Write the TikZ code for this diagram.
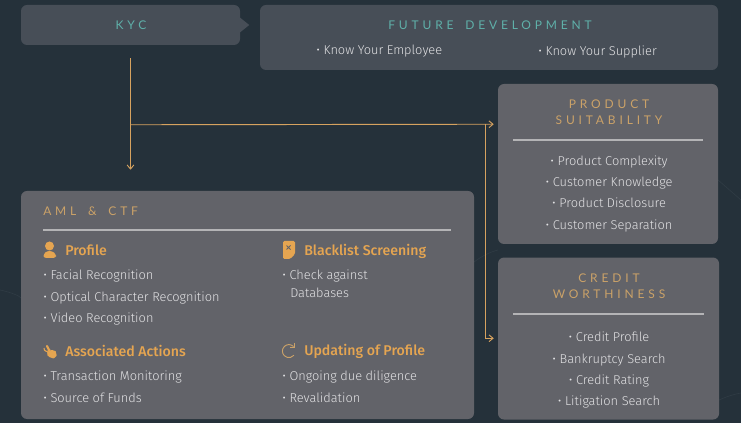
\documentclass[tikz,border=0pt]{standalone}
\usepackage{fontspec}
\setmainfont{Fira Sans}[UprightFont=* Light, BoldFont=* Medium]
\newfontfamily\titlefont[LetterSpace=32,WordSpace=1.7]{Lato}
\usetikzlibrary{positioning, arrows.meta, calc}
\definecolor{pagebg}{HTML}{25313A}
\definecolor{boxdark}{HTML}{474E57}
\definecolor{boxgrey}{HTML}{626369}
\definecolor{tanline}{HTML}{D6A25F}
\definecolor{headorange}{HTML}{E5A551}
\definecolor{titletan}{HTML}{CBA268}
\definecolor{titleteal}{HTML}{5FB0A9}
\definecolor{bodytext}{HTML}{E2E2E4}
\definecolor{rulegrey}{HTML}{B4B4B6}
\definecolor{bgline}{HTML}{2F3B44}

\begin{document}
\begin{tikzpicture}[
  x=0.75pt, y=-0.75pt,
  panel/.style={rounded corners=4.5pt, inner sep=0pt, fill=#1},
  ttl/.style={font=\titlefont\fontsize{9}{12}\selectfont, align=center, inner sep=0pt},
  head/.style={font=\bfseries\fontsize{10.6}{12}\selectfont, text=headorange, anchor=west, inner sep=0pt},
  items/.style={font=\fontsize{9.6}{#1}\selectfont, text=bodytext, inner sep=0pt, align=center},
  items/.default={16},
  sep/.style={rulegrey, line width=0.9pt},
  arr/.style={-{Straight Barb[length=3pt,width=5pt]}, tanline, line width=0.7pt},
  wire/.style={bgline, line width=0.5pt},
]
\fill[pagebg] (0,0) rectangle (741,423);
\useasboundingbox (0,0) rectangle (741,423);

% --- Faint background lines ---
\draw[wire] (0,290) .. controls (10,292) and (20,296) .. (21,298);
\draw[wire] (474,262) .. controls (482,256) and (490,252) .. (498,250);
\draw[wire] (718,180) -- (741,200);
\draw[wire] (719,400) .. controls (728,396) and (735,394) .. (741,393);

% --- Main panels ---
\node[panel=boxdark, minimum width=164.25pt, minimum height=30pt] (kyc) at (130.5,25) {};
\fill[boxdark] ($(kyc.east)+(-1,-8)$) -- ($(kyc.east)+(9,0)$) -- ($(kyc.east)+(-1,8)$) -- cycle;
\node[panel=boxdark, minimum width=343.5pt, minimum height=48.75pt] (future) at (489,37.5) {};
\node[panel=boxgrey, minimum width=165pt, minimum height=120pt] (prod) at (608,164) {};
\node[panel=boxgrey, minimum width=165.75pt, below=9.75pt of prod, minimum height=121.5pt, xshift=0.4pt] (credit) {};
\node[panel=boxgrey, minimum width=339.75pt, minimum height=171pt] (aml) at (247.5,305) {};

% --- Top panels: text ---
\node[ttl, text=titleteal] (kyclbl) at (131,25.5) {KYC};
\node[ttl, text=titleteal] (futurelbl) at (490,25.5) {FUTURE DEVELOPMENT};
\node[items, anchor=west] (emp) at (316,51.5) {• Know Your Employee};
\node[items, anchor=west] (sup) at (538,51.5) {• Know Your Supplier};

% --- Product suitability ---
\node[ttl, text=titletan] (prodlbl) at (609,112.5) {PRODUCT\\SUITABILITY};
\draw[sep] (513,140) -- (703,140);
\node[items, below=22.5pt of prodlbl] (prodlist) {• Product Complexity\\• Customer Knowledge\\• Product Disclosure\\• Customer Separation};

% --- Credit worthiness ---
\node[ttl, text=titletan] (creditlbl) at (609,286) {CREDIT\\WORTHINESS};
\draw[sep] (513,314) -- (704,314);
\node[items, below=25pt of creditlbl] (creditlist) {• Credit Profile\\• Bankruptcy Search\\• Credit Rating\\• Litigation Search};

% --- AML and CTF ---
\node[ttl, text=titletan, anchor=west] (amllbl) at (43,211) {AML \& CTF};
\draw[sep] (43,230) -- (451,230);

\node[head] (profile) at (65,250) {Profile};
\node[items, align=left, anchor=north west] (profilelist) at (43,270) {• Facial Recognition\\• Optical Character Recognition\\• Video Recognition};
\node[head] (actions) at (65,350.5) {Associated Actions};
\node[items, align=left, anchor=north west] (actionslist) at (43,371) {• Transaction Monitoring\\• Source of Funds};
\node[head] (black) at (304,251) {Blacklist Screening};
\node[items=13, align=left, anchor=north west] (blacklist) at (282,270) {• Check against\\\hspace*{6pt}Databases};
\node[head] (update) at (304,351) {Updating of Profile};
\node[items, align=left, anchor=north west] (updatelist) at (282,371) {• Ongoing due diligence\\• Revalidation};

% --- Icons ---
\fill[headorange] (49.5,246) circle (4.5);
\fill[headorange, rounded corners=2pt] (43.5,258) -- (43.5,254) -- (47,251) -- (52,251) -- (56,254) -- (56,258) -- cycle;
\draw[headorange, line width=1.6pt, line cap=round] (47,346) -- (50,352);
\fill[headorange, rounded corners=1.5pt] (48,351) -- (54,349.5) -- (57,353) -- (56,358) -- (51,358.5) -- (46,354) -- cycle;
\draw[headorange, line width=0.8pt] (44,348) arc (190:10:3);
\fill[headorange, rounded corners=1pt] (283,241) -- (295,241) -- (295,254) -- (290,259) -- (283,259) -- cycle;
\draw[boxgrey, line width=0.6pt] (286.5,245.5) -- (290.5,249.5) (290.5,245.5) -- (286.5,249.5);
\draw[titletan, line width=0.7pt] (293.5,346.5) arc (-45:-320:6.5);
\draw[titletan, line width=0.7pt] (294,343) -- (294,347) -- (290,347);

% --- Arrows ---
\coordinate (kycout) at ($(kyc.south)+(0,13)$);
\coordinate (amlin) at ($(kyc.south |- aml.north)+(0,-21)$);
\coordinate (tee) at ($(kyc.south)+(0,79.5)$);
\coordinate (prodin) at ($(prod.north west)+(-4,40.5)$);
\coordinate (split) at ($(prodin)+(-8,0)$);
\coordinate (creditin) at ($(credit.north west)+(-4,81)$);
\draw[arr] (kycout) -- (amlin);
\draw[arr] (tee) -- (prodin);
\draw[arr] (split) |- (creditin);

\end{tikzpicture}
\end{document}
